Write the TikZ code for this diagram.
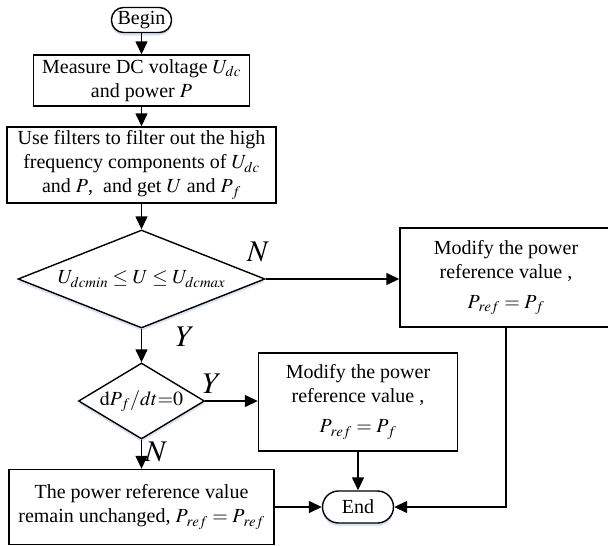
\documentclass[tikz,border=0pt]{standalone}
\usepackage{mathptmx}
\usepackage{fontspec}
\setmainfont{Liberation Serif}
\usetikzlibrary{arrows.meta,shapes.geometric,shadows}

\tikzset{
  glow/.style={drop shadow={shadow xshift=0pt,shadow yshift=-3pt,fill=cyan!40!blue!60,opacity=0.25}},
  terminal/.style={draw, fill=white, glow, inner sep=2pt},
  process/.style={draw, fill=white, align=center, inner sep=3pt},
  decision/.style={draw, fill=white, glow, diamond, inner sep=0pt},
  branch/.style={font=\fontsize{30}{30}\selectfont},
}
\newcommand{\pref}{P_{\kern1.5pt ref}}
\newcommand{\pfil}{P_{\kern1.5pt f}}

\begin{document}
\begin{tikzpicture}[x=1pt, y=-1pt, line width=1.4pt,
    font=\fontsize{20}{24}\selectfont,
    >={Triangle[length=13pt,width=12pt]}]
  \clip (0,0) rectangle (608,546);

  % main column
  \node[terminal, rounded corners=12pt, minimum width=60, minimum height=25] (begin) at (141.5,20) {Begin};
  \node[process, minimum width=216, minimum height=51] (measure) at (141.5,80.5)
    {Measure DC voltage $U_{dc}$\\and power $P$};
  \node[process, minimum width=269, minimum height=76] (filter) at (141.5,165)
    {Use filters to filter out the high\\frequency components of $U_{dc}$\\and $P$,\ \ and get $U$ and $\pfil$};
  \node[decision, aspect=2.5, minimum width=247, minimum height=98] (checkU) at (141.5,279)
    {$U_{dcmin}\leq U\leq U_{dcmax}$};
  \node[decision, aspect=1.66, minimum width=126, minimum height=76] (checkP) at (141.5,401)
    {$\mathrm{d}\pfil/dt{=}0$};
  \node[process, minimum width=265, minimum height=75] (keep) at (141.5,507)
    {The power reference value\\remain unchanged, $\pref=\pref$};

  % right side
  \node[process, minimum width=212, minimum height=99] (modifyA) at (506,277.5)
    {Modify the power\\reference value ,\\[6pt]$\pref=\pfil$};
  \node[process, minimum width=199, minimum height=98] (modifyB) at (358,402)
    {Modify the power\\reference value ,\\[6pt]$\pref=\pfil$};
  \node[terminal, rounded corners=16pt, minimum width=71, minimum height=32] (end) at (358,507) {End};

  % labels
  \node[branch] (nA) at (258,252) {$N$};
  \node[branch] (yA) at (185,337) {$Y$};
  \node[branch] (yB) at (212,384) {$Y$};
  \node[branch] (nB) at (156,452) {$N$};

  % connectors
  \draw[->] (begin) -- (measure);
  \draw[->] (measure) -- (filter);
  \draw[->] (filter) -- (checkU);
  \draw[->] (checkU.east) -- (checkU.east -| modifyA.west);
  \draw[->] (checkU) -- (checkP);
  \draw[->] (checkP.east) -- (checkP.east -| modifyB.west);
  \draw[->] (checkP) -- (keep);
  \draw[->] (modifyB) -- (end);
  \draw[->] (keep) -- (end);
  \draw[->] (modifyA.south) |- (end.east);
\end{tikzpicture}
\end{document}
